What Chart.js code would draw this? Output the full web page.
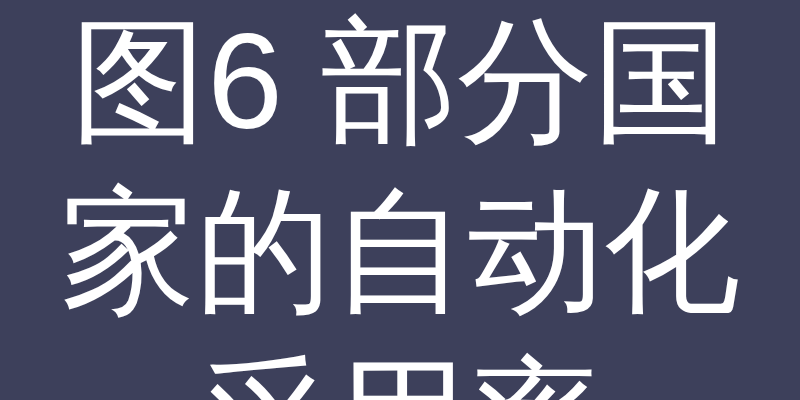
<!DOCTYPE html>
<html lang="zh">
<head>
<meta charset="utf-8">
<title>图6 部分国家的自动化采用率</title>
<script src="https://cdn.jsdelivr.net/npm/chart.js"></script>
<style>
    html, body { margin: 0; padding: 0; background: #3d405b; overflow: hidden; }
</style>
</head>
<body>
<canvas id="adoptionChart" width="800" height="400"></canvas>
<script>
// Titel, so wie er im Bild umbricht
const titleLines = ["图6 部分国", "家的自动化", "采用率"];

// Im Bild ist vom eigentlichen Diagramm nichts zu sehen
const countries = [];
const adoptionRates = [];

const bgPlugin = {
    id: 'hintergrund',
    beforeDraw(chart) {
        const ctx = chart.ctx;
        ctx.save();
        ctx.fillStyle = '#3d405b';
        ctx.fillRect(0, 0, chart.width, chart.height);
        ctx.restore();
    }
};

new Chart(document.getElementById('adoptionChart'), {
    type: 'bar',
    data: {
        labels: countries,
        datasets: [{
            label: '自动化采用率',
            data: adoptionRates,
            backgroundColor: '#81b29a'
        }]
    },
    options: {
        responsive: false,
        animation: false,
        devicePixelRatio: 1,
        layout: { padding: 0 },
        plugins: {
            legend: { display: false },
            tooltip: { enabled: false },
            title: {
                display: true,
                text: titleLines,
                color: '#ffffff',
                font: { size: 136, weight: 'normal', lineHeight: 1.25 },
                padding: { top: 5, bottom: 0 }
            }
        },
        scales: {
            x: { display: false },
            y: { display: false }
        }
    },
    plugins: [bgPlugin]
});
</script>
</body>
</html>
